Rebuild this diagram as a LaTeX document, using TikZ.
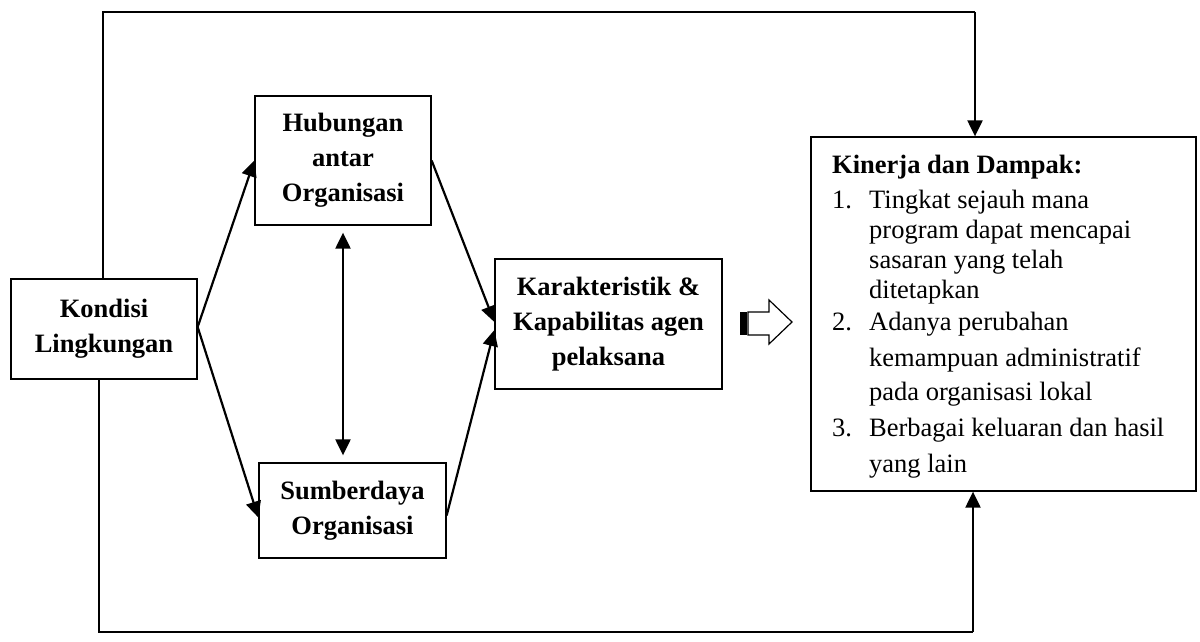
\documentclass[tikz,border=0pt]{standalone}
\usepackage{fontspec}
\setmainfont{Liberation Serif}
\usetikzlibrary{arrows.meta,calc}
\begin{document}
\begin{tikzpicture}[x=1pt,y=-1pt,
  box/.style={draw,line width=1.3pt,inner sep=0pt,align=center,
    font=\fontsize{26.5}{35}\selectfont\bfseries},
  tip/.style={},
  link/.style={line width=2.2pt,-{Triangle[length=16pt,width=15pt]}},
  twoway/.style={line width=2.2pt,{Triangle[length=16pt,width=15pt]}-{Triangle[length=16pt,width=15pt]}},
  frame/.style={line width=1.3pt},
  item/.style={anchor=base west,inner sep=0pt,font=\fontsize{26.5}{30}\selectfont}]
\useasboundingbox (0,0) rectangle (1200,642);

% main blocks
\node[box,minimum width=186pt,minimum height=100pt] (kond) at (104,329) {Kondisi\\Lingkungan};
\node[box,minimum width=176pt,minimum height=129pt] (hub) at (343,160.5) {Hubungan\\antar\\Organisasi};
\node[box,minimum width=187pt,minimum height=95pt] (sumb) at (352.5,510.5) {Sumberdaya\\Organisasi};
\node[box,minimum width=227pt,minimum height=130pt] (kar) at (608.5,324) {Karakteristik \&\\Kapabilitas agen\\pelaksana};
\node[draw,line width=1.3pt,minimum width=385pt,minimum height=354pt,inner sep=0pt] (res) at (1003.5,314) {};

% result list
\node[item,font=\fontsize{26.5}{30}\selectfont\bfseries] (h0) at (832,173) {Kinerja dan Dampak:};
\node[item] (n1) at (832,208) {1.};
\node[item] (t1a) at (869,208) {Tingkat sejauh mana};
\node[item] (t1b) at (869,238) {program dapat mencapai};
\node[item] (t1c) at (869,268) {sasaran yang telah};
\node[item] (t1d) at (869,298) {ditetapkan};
\node[item] (n2) at (832,330) {2.};
\node[item] (t2a) at (869,330) {Adanya perubahan};
\node[item] (t2b) at (869,366) {kemampuan administratif};
\node[item] (t2c) at (869,400) {pada organisasi lokal};
\node[item] (n3) at (832,436) {3.};
\node[item] (t3a) at (869,436) {Berbagai keluaran dan hasil};
\node[item] (t3b) at (869,472) {yang lain};

% links between blocks
\draw[link] ($(kond.east)+(0,-2)$) -- (hub.west);
\draw[link] ($(kond.east)+(0,-2)$) -- ($(sumb.west)+(0,7)$);
\draw[link] (hub.east) -- ($(kar.west)+(0,-2)$);
\draw[link] ($(sumb.east)+(0,5)$) -- ($(kar.west)+(0,6)$);
\draw[twoway,shorten <=7pt,shorten >=7pt] (hub.south) -- (hub.south |- sumb.north);

% outer feedback lines
\coordinate (tl) at (103,12);
\coordinate (tr) at (975,12);
\coordinate (bl) at (99,632);
\coordinate (br) at (973,632);
\draw[frame] (kond.north -| tl) -- (tl) -- (tr);
\draw[link] (tr) -- (tr |- res.north);
\draw[frame] (kond.south -| bl) -- (bl) -- (br);
\draw[link] (br) -- (br |- res.south);

% block arrow towards the result box
\fill (740,312) rectangle (746.5,335);
\draw[line width=1.2pt,line join=miter]
  (748,312) -- (769,312) -- (769,300) -- (792,322) -- (769,344) -- (769,335) -- (748,335) -- cycle;
\end{tikzpicture}
\end{document}
